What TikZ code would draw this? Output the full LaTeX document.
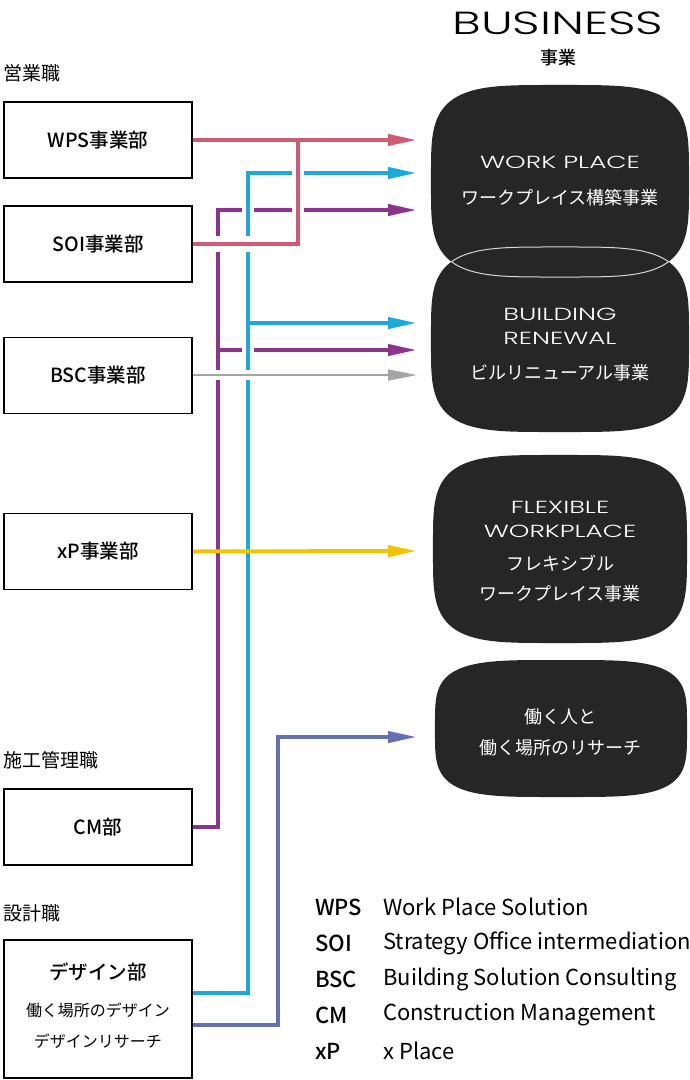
\documentclass[tikz,border=0pt]{standalone}
\usepackage{fontspec}
\setmainfont{Noto Sans CJK JP}
\IfFontExistsTF{Noto Sans CJK JP Medium}
  {\newfontfamily\medfont{Noto Sans CJK JP Medium}}
  {\newfontfamily\medfont[FakeBold=1.2]{Noto Sans CJK JP}}
\IfFontExistsTF{Poppins Light}
  {\newfontfamily\widefont[FakeStretch=1.5]{Poppins Light}}
  {\newfontfamily\widefont[FakeStretch=1.5]{Poppins}}
\usetikzlibrary{arrows.meta}
\definecolor{cpink}{RGB}{208,90,115}
\definecolor{cblue}{RGB}{30,168,220}
\definecolor{cpurple}{RGB}{138,52,140}
\definecolor{cgray}{RGB}{165,165,165}
\definecolor{cyellow}{RGB}{240,196,0}
\definecolor{cslate}{RGB}{100,112,176}
\definecolor{cdark}{RGB}{38,38,38}
\definecolor{clens}{RGB}{215,215,215}
\newcommand\squircle[5]{\path[#5] plot[domain=1:361,samples=181] ({#1+#3*sign(cos(\x))*(abs(cos(\x)))^0.5},{#2+#4*sign(sin(\x))*(abs(sin(\x)))^0.5}) -- cycle;}
\begin{document}
\begin{tikzpicture}[x=1pt,y=-1pt,
  unitbox/.style={draw=black, line width=1.8pt, minimum width=188pt, minimum height=76pt, inner sep=0pt, font=\medfont\fontsize{19.5}{19.5}\selectfont},
  conn/.style={line width=4pt},
  arrowed/.style={-{Triangle[length=29pt,width=11pt]}},
  halo/.style={draw=white, line width=#1},
  catlabel/.style={anchor=west, inner sep=0pt, font=\fontsize{19}{19}\selectfont},
  wtitle/.style={text=white, inner sep=0pt, font=\widefont\fontsize{17.5}{17.5}\selectfont},
  wjp/.style={text=white, inner sep=0pt, font=\fontsize{18}{18}\selectfont},
  legab/.style={anchor=west, inner sep=0pt, font=\medfont\fontsize{22}{22}\selectfont},
  legtx/.style={anchor=west, inner sep=0pt, font=\fontsize{22}{22}\selectfont},
  subtx/.style={inner sep=0pt, font=\fontsize{16}{16}\selectfont}
]
\fill[white] (0,0) rectangle (690,1080);
\useasboundingbox (0,0) rectangle (690,1080);

% header
\node[inner sep=0pt, font=\widefont\fontsize{32}{32}\selectfont] (business) at (558,23) {BUSINESS};
\node[inner sep=0pt, font=\medfont\fontsize{18}{18}\selectfont] (jigyo) at (558,58) {事業};

% dark business boxes
\squircle{560}{181}{129}{96}{fill=cdark}
\squircle{560}{339.5}{129}{92.5}{fill=cdark}
\squircle{560}{549}{127}{94}{fill=cdark}
\squircle{561}{728.5}{126}{68.5}{fill=cdark}
\begin{scope}
\squircle{560}{181}{129}{96}{clip}
\squircle{560}{339.5}{129}{92.5}{draw=clens,line width=1pt}
\end{scope}
\begin{scope}
\squircle{560}{339.5}{129}{92.5}{clip}
\squircle{560}{181}{129}{96}{draw=clens,line width=1pt}
\end{scope}

\node[wtitle] (wpT) at (560,162) {WORK PLACE};
\node[wjp] (wpJ) at (560,198) {ワークプレイス構築事業};
\node[wtitle] (brT1) at (560,314) {BUILDING};
\node[wtitle] (brT2) at (560,338) {RENEWAL};
\node[wjp] (brJ) at (560,373) {ビルリニューアル事業};
\node[wtitle] (fwT1) at (560,507) {FLEXIBLE};
\node[wtitle] (fwT2) at (560,531) {WORKPLACE};
\node[wjp] (fwJ1) at (560,563) {フレキシブル};
\node[wjp] (fwJ2) at (560,594) {ワークプレイス事業};
\node[wjp] (rsJ1) at (560,717) {働く人と};
\node[wjp] (rsJ2) at (560,748) {働く場所のリサーチ};

% arrow end points
\coordinate (wpP) at (417,140);
\coordinate (wpB) at (417,173);
\coordinate (wpU) at (417,210);
\coordinate (brB) at (417,323);
\coordinate (brU) at (417,350);
\coordinate (brG) at (417,375);
\coordinate (fwY) at (417,551);
\coordinate (rsS) at (417,737);

% category labels
\node[catlabel] (eigyo) at (3,73) {営業職};
\node[catlabel] (sekou) at (3,760) {施工管理職};
\node[catlabel] (sekkei) at (3,913) {設計職};

% unit boxes
\node[unitbox] (wps) at (98,140) {WPS事業部};
\node[unitbox] (soi) at (98,244) {SOI事業部};
\node[unitbox] (bsc) at (98,375.5) {BSC事業部};
\node[unitbox] (xp) at (98,551.5) {xP事業部};
\node[unitbox] (cm) at (98,827) {CM部};
\node[unitbox, minimum height=138pt] (design) at (98,1009) {};
\node[inner sep=0pt, font=\medfont\fontsize{19.5}{19.5}\selectfont] (designT) at (98,972) {デザイン部};
\node[subtx] (designS1) at (98,1010) {働く場所のデザイン};
\node[subtx] (designS2) at (98,1041) {デザインリサーチ};

% junction coordinates
\coordinate (bj) at (248,173);
\coordinate (bb) at (248,323);
\coordinate (uj) at (218,210);
\coordinate (ub) at (218,350);
\coordinate (pj) at (298,140);
\coordinate (sj) at (278,737);

% blue and purple (under)
\draw[conn, cblue, arrowed] ([yshift=16pt]design.east) -| (bj) -- (wpB);
\draw[conn, cblue, arrowed] (bb) -- (brB);
\draw[conn, cpurple, arrowed] (cm.east) -| (uj) -- (wpU);
\draw[conn, cpurple, arrowed] (ub) -- (brU);
% blue vertical over purple horizontals
\draw[halo=12pt] (248,200) -- (248,220);
\draw[halo=12pt] (248,340) -- (248,360);
\draw[conn, cblue] (248,199) -- (248,221);
\draw[conn, cblue] (248,339) -- (248,361);

% pink
\draw[conn, cpink, arrowed] (wps.east) -- (wpP);
\draw[halo=12pt] (298,160) -- (298,225);
\draw[halo=16pt] (206,244) -- (262,244);
\draw[conn, cpink] (soi.east) -| (pj);

% gray
\draw[halo=10pt] (206,375) -- (262,375);
\draw[line width=2pt, cgray, -{Triangle[length=29pt,width=11pt]}] (bsc.east |- brG) -- (brG);

% yellow
\draw[conn, cyellow, arrowed] (xp.east) -- (fwY);

% slate
\draw[conn, cslate, arrowed] ([yshift=-16pt]design.east) -| (sj) -- (rsS);

% legend
\node[legab] (lgA1) at (315,907) {WPS};
\node[legab] (lgA2) at (315,943) {SOI};
\node[legab] (lgA3) at (315,979) {BSC};
\node[legab] (lgA4) at (315,1015) {CM};
\node[legab] (lgA5) at (315,1051) {xP};
\node[legtx] (lgT1) at (383,907) {Work Place Solution};
\node[legtx] (lgT2) at (383,943) {Strategy Office intermediation};
\node[legtx] (lgT3) at (383,979) {Building Solution Consulting};
\node[legtx] (lgT4) at (383,1015) {Construction Management};
\node[legtx] (lgT5) at (383,1051) {x Place};
\end{tikzpicture}
\end{document}
